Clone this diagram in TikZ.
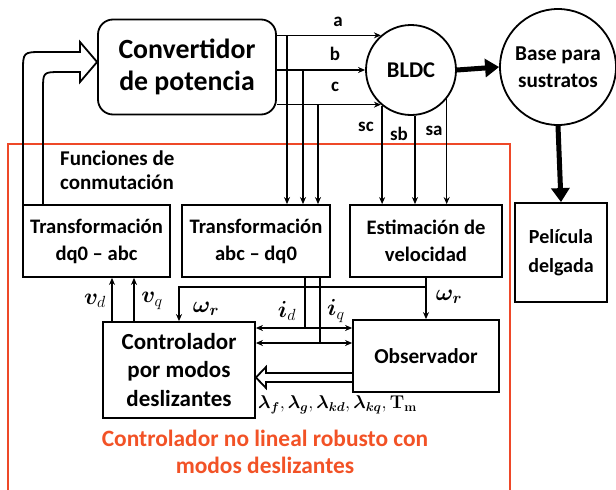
\documentclass[tikz,border=0pt]{standalone}
\usepackage[no-math]{fontspec}
\setmainfont{Carlito}
\usepackage{bm}
\usepackage{graphicx}
\usetikzlibrary{arrows.meta,calc}
\definecolor{redframe}{RGB}{238,72,40}
\definecolor{redtext}{RGB}{242,82,38}
\newcommand{\mlabel}[1]{\scalebox{1.12}{$#1$}}
\begin{document}
\begin{tikzpicture}[x=1pt,y=-1pt,
  blk/.style={draw, line width=1.8pt, align=center, inner sep=0pt, font=\fontsize{20.6}{27}\selectfont\bfseries},
  sig/.style={line width=1.5pt, -{Stealth[length=7pt,width=6pt]}},
  dsig/.style={line width=1.5pt, {Stealth[length=7pt,width=6pt]}-{Stealth[length=7pt,width=6pt]}},
  plain/.style={line width=1.5pt},
  bigarrow/.style={line width=5pt, -{Triangle[length=14pt,width=18pt]}},
  hollow/.style={line width=1.8pt, line join=miter},
  lbl/.style={font=\fontsize{19}{22}\selectfont\bfseries, inner sep=0pt},
  mlbl/.style={font=\fontsize{20.74}{24}\selectfont, inner sep=0pt},
  redframe/.style={draw=redframe, line width=1.6pt}]
\useasboundingbox (0,0) rectangle (616,490);

% red frame
\draw[redframe] (8,500) -- (8,144) -- (510,144) -- (510,500);

% blocks
\node[blk, rounded corners=15pt, minimum width=178pt, minimum height=95pt,
      font=\fontsize{27.8}{32}\selectfont\bfseries] (conv) at (187,67) {Convertidor\\de potencia};
\node[blk, circle, minimum size=90pt, font=\fontsize{22.5}{24}\selectfont\bfseries] (bldc) at (411,70) {BLDC};
\node[blk, circle, minimum size=116pt, font=\fontsize{21.2}{27}\selectfont\bfseries] (base) at (558,67) {Base para\\sustratos};
\node[blk, minimum width=92pt, minimum height=99pt, font=\fontsize{20}{29}\selectfont\bfseries] (pel) at (561,252.5) {Película\\delgada};
\node[blk, minimum width=147pt, minimum height=72pt] (dqabc) at (96.5,241) {Transformación\\dq0 -- abc};
\node[blk, minimum width=148pt, minimum height=72pt] (abcdq) at (256,241) {Transformación\\abc -- dq0};
\node[blk, minimum width=152pt, minimum height=72pt] (est) at (426,241) {Estimación de\\velocidad};
\node[blk, minimum width=152pt, minimum height=96pt, font=\fontsize{23}{28.5}\selectfont\bfseries] (ctrl) at (179,370) {Controlador\\por modos\\deslizantes};
\node[blk, minimum width=146pt, minimum height=72pt, font=\fontsize{21.3}{26}\selectfont\bfseries] (obs) at (426,356) {Observador};

% phase lines a, b, c
\coordinate (pa) at (conv.east |- bldc.131);
\coordinate (pb) at (conv.east |- bldc.west);
\coordinate (pc) at (conv.east |- bldc.229);
\draw[sig] (pa) -- (bldc.131);
\draw[sig] (pb) -- (bldc.west);
\draw[sig] (pc) -- (bldc.229);
\node[lbl] at (338,22) {a};
\node[lbl] at (335,54) {b};
\node[lbl] at (335,87) {c};

% drops to abc-dq0
\coordinate (ja) at (287,0 |- pa);
\coordinate (jb) at (303,0 |- pb);
\coordinate (jc) at (318,0 |- pc);
\draw[sig] (ja) -- (ja |- abcdq.north);
\draw[sig] (jb) -- (jb |- abcdq.north);
\draw[sig] (jc) -- (jc |- abcdq.north);

% sensor lines
\draw[sig] (bldc.231) -- (bldc.231 |- est.north);
\draw[sig] (bldc.275) -- (bldc.275 |- est.north);
\draw[sig] (bldc.321) -- (bldc.321 |- est.north);
\node[lbl] at (366,127) {sc};
\node[lbl] at (399,134) {sb};
\node[lbl] at (434,131) {sa};

% thick arrows
\draw[bigarrow] (bldc.east) -- (base.west);
\draw[bigarrow] (base.south) -- (pel.north);

% hollow arrow to converter
\coordinate (tip) at (conv.west |- 0,62);
\draw[hollow] (23,205) -- (23,72) .. controls (23,52) .. (43,52) -- (80,52) -- (80,42) -- (tip)
  -- (80,82) -- (80,72) -- (61,72) .. controls (43,72) .. (43,90) -- (43,205);
\node[lbl, font=\fontsize{21}{24}\selectfont\bfseries, align=left, anchor=west] at (60,170) {Funciones de\\conmutación};

% v_d, v_q
\coordinate (vd) at (112,0 |- ctrl.north);
\coordinate (vq) at (134,0 |- ctrl.north);
\draw[sig] (vd) -- (vd |- dqabc.south);
\draw[sig] (vq) -- (vq |- dqabc.south);
\node[mlbl] at (95,301) {\mlabel{\bm{v}_d}};
\node[mlbl] at (152,301) {\mlabel{\bm{v}_q}};

% omega_r
\coordinate (wj) at (est.south |- 0,287);
\draw[sig] (est.south) -- (obs.north);
\draw[sig] (wj) -| (ctrl.north);
\node[mlbl] at (206,309) {\mlabel{\bm{\omega_r}}};
\node[mlbl] at (449,297) {\mlabel{\bm{\omega_r}}};

% i_d, i_q
\coordinate (idj) at (305,0 |- abcdq.south);
\coordinate (iqj) at (320,0 |- abcdq.south);
\coordinate (idl) at (obs.west |- 0,328);
\coordinate (iql) at (obs.west |- 0,343);
\draw[plain] (idj) -- (idj |- idl);
\draw[plain] (iqj) -- (iqj |- iql);
\draw[dsig] (ctrl.east |- idl) -- (idl);
\draw[dsig] (ctrl.east |- iql) -- (iql);
\node[mlbl] at (287,311) {\mlabel{\bm{i}_d}};
\node[mlbl] at (336,311) {\mlabel{\bm{i}_q}};

% hollow arrow observer -> controller
\coordinate (ctip) at (ctrl.east |- 0,377.5);
\draw[hollow] (obs.west |- 0,373) -- (266,373) -- (266,367) -- (ctip) -- (266,388) -- (266,382) -- (obs.west |- 0,382);
\node[mlbl, font=\fontsize{17.28}{20}\selectfont, anchor=west] at (258,405) {\scalebox{1.07}{$\bm{\lambda}_{\bm{f}},\bm{\lambda}_{\bm{g}},\bm{\lambda}_{\bm{kd}},\bm{\lambda}_{\bm{kq}},\mathbf{T}_{\mathbf{m}}$}};

% red caption
\node[font=\fontsize{23.4}{27}\selectfont\bfseries, text=redtext, align=center, inner sep=0pt] (cap) at (265,452) {Controlador no lineal robusto con\\modos deslizantes};
\end{tikzpicture}
\end{document}
